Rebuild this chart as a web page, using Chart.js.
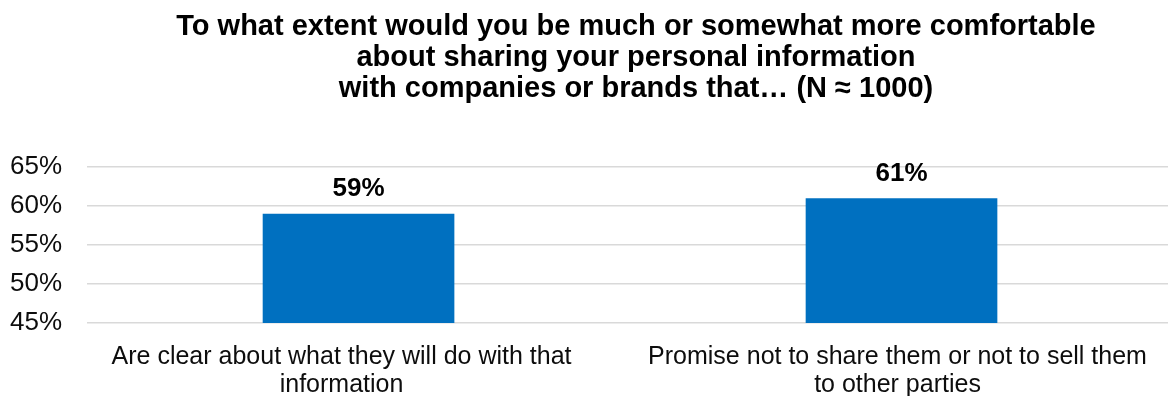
<!DOCTYPE html>
<html>
<head>
<meta charset="utf-8">
<script src="https://cdn.jsdelivr.net/npm/chart.js@4.4.1/dist/chart.umd.min.js"></script>
<style>
  html, body { margin: 0; padding: 0; background: #fff; overflow: hidden; }
  #title {
    position: absolute; left: 136px; top: 9.5px; width: 1000px;
    text-align: center; font: bold 29px "Liberation Sans", Arial, sans-serif;
    line-height: 31px; color: #000; z-index: 2;
  }
  #wrap { position: absolute; left: -25px; top: 0; width: 1201px; height: 415px; }
</style>
</head>
<body>
<div id="title">To what extent would you be much or somewhat more comfortable<br>about sharing your personal information<br>with companies or brands that… (N ≈ 1000)</div>
<div id="wrap"><canvas id="chartComfort"></canvas></div>
<script>
// categorias y valores (%)
const categories = [
  ["Are clear about what they will do with that", "information"],
  ["Promise not to share them or not to sell them", "to other parties"],
];
const values = [59, 61];
const yTicks = [45, 50, 55, 60, 65];

const FONT = '"Liberation Sans", Arial, sans-serif';
const el = (id) => document.getElementById(id);

// etiquetas encima de cada barra
const barLabels = {
  id: "barLabels",
  afterDatasetsDraw(chart) {
    const ctx = chart.ctx;
    const meta = chart.getDatasetMeta(0);
    ctx.save();
    ctx.font = "bold 26px " + FONT;
    ctx.fillStyle = "#000";
    ctx.textAlign = "center";
    ctx.textBaseline = "middle";
    meta.data.forEach((bar, i) => {
      ctx.fillText(values[i] + "%", bar.x, bar.y - 24.5);
    });
    ctx.restore();
  },
};

// desplaza un poco cada etiqueta del eje x (como en Excel)
const xLabelShift = {
  id: "xLabelShift",
  beforeDraw(chart, args, opts) {
    const items = chart.scales.x.getLabelItems(chart.chartArea);
    items.forEach((it, i) => {
      if (it._shifted) return;
      it.options.translation[0] += opts.dx[i] || 0;
      it._shifted = true;
    });
  },
};

new Chart(el("chartComfort").getContext("2d"), {
  type: "bar",
  data: {
    labels: categories,
    datasets: [
      {
        data: values,
        backgroundColor: "#0070C0",
        borderWidth: 0,
        barPercentage: 0.353,
        categoryPercentage: 1,
      },
    ],
  },
  options: {
    responsive: true,
    maintainAspectRatio: false,
    animation: false,
    layout: { padding: { top: 167, left: 10, right: 3, bottom: 4 } },
    plugins: {
      legend: { display: false },
      tooltip: { enabled: false },
      xLabelShift: { dx: [-17, -4] },
    },
    scales: {
      x: {
        grid: { display: false },
        border: { display: false },
        ticks: {
          color: "#0d0d0d",
          padding: 12,
          maxRotation: 0,
          autoSkip: false,
          font: { family: FONT, size: 25, lineHeight: 1.12 },
        },
      },
      y: {
        min: yTicks[0],
        max: yTicks[yTicks.length - 1],
        afterBuildTicks: (axis) => { axis.ticks = yTicks.map((v) => ({ value: v })); },
        grid: { color: "#d9d9d9", lineWidth: 1.5, drawTicks: false },
        border: { display: false },
        ticks: {
          color: "#0d0d0d",
          padding: 25,
          callback: (v) => v + "%",
          font: { family: FONT, size: 26 },
        },
      },
    },
  },
  plugins: [barLabels, xLabelShift],
});
</script>
</body>
</html>
